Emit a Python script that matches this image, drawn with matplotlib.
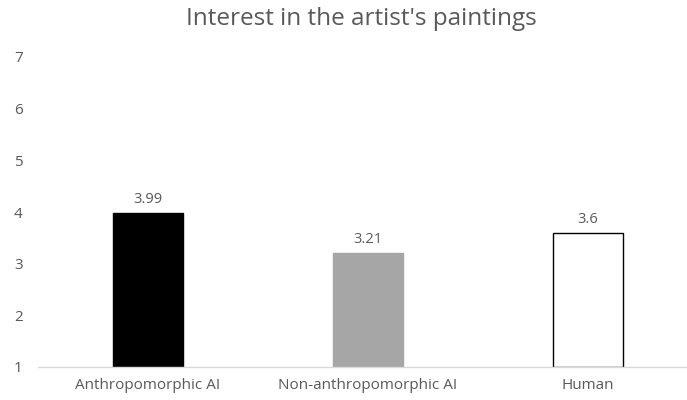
import matplotlib
matplotlib.use('Agg')
import matplotlib.pyplot as plt

categories = ['Anthropomorphic AI', 'Non-anthropomorphic AI', 'Human']
values = [3.99, 3.21, 3.6]
labels = ['3.99', '3.21', '3.6']
bar_colors = ['#000000', '#a6a6a6', '#ffffff']
edge_colors = ['#000000', '#a6a6a6', '#000000']

plt.rcParams['font.family'] = ['Open Sans', 'DejaVu Sans']
text_color = '#595959'

fig = plt.figure(figsize=(6.87, 4.0), dpi=100)
ax = fig.add_axes([38 / 687, 1 - 367 / 400, 1 - 38 / 687, 310 / 400])

x = range(len(categories))
bars = ax.bar(x, [v - 1 for v in values], bottom=1, width=0.315,
              color=bar_colors, edgecolor=edge_colors, linewidth=1.0)

for xi, v, lab in zip(x, values, labels):
    ax.annotate(lab, (xi, v), xytext=(0, 4), textcoords='offset points',
                ha='center', va='bottom', fontsize=10.5, color=text_color)

ax.set_xlim(-0.5, 2.45)
ax.set_ylim(1, 7)
ax.set_yticks(range(1, 8))
ax.set_xticks(list(x))
ax.set_xticklabels(categories)

for side in ['top', 'right', 'left']:
    ax.spines[side].set_visible(False)
ax.spines['bottom'].set_color('#d9d9d9')
ax.spines['bottom'].set_linewidth(1.0)

ax.tick_params(axis='both', length=0, colors=text_color, labelsize=11)
ax.tick_params(axis='y', pad=11)
ax.tick_params(axis='x', pad=8)

# title sits centred over the plot area, not the whole figure
fig.text(361 / 687, 1 - 19 / 400, "Interest in the artist's paintings",
         ha='center', va='center', fontsize=17.5, color=text_color)

fig.savefig('out.png', dpi=100)
